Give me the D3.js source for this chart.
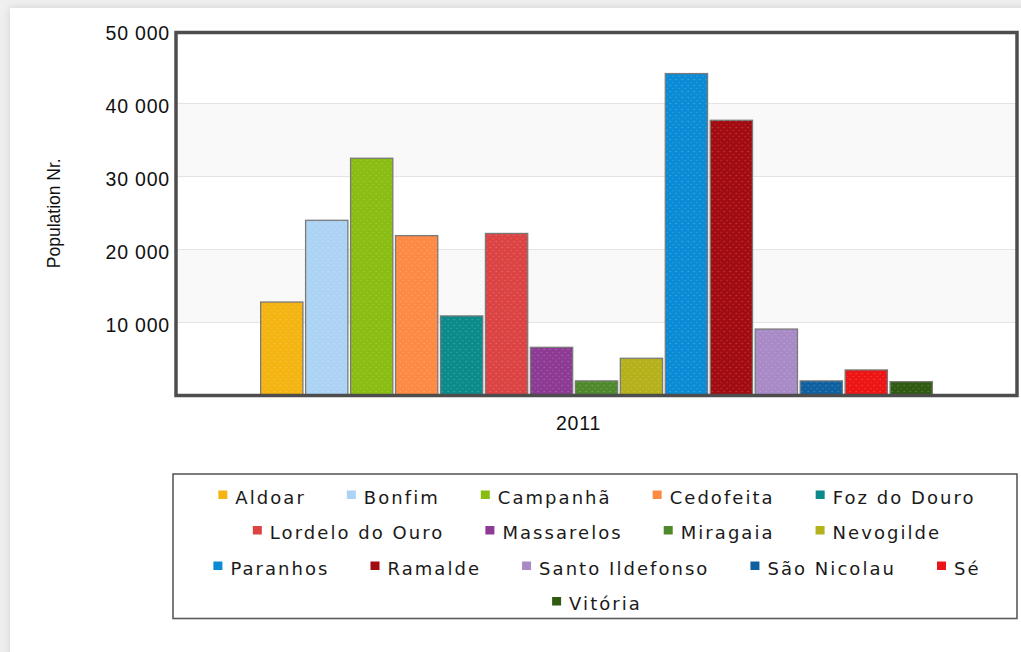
<!DOCTYPE html>
<html>
<head>
<meta charset="utf-8">
<script src="https://cdn.jsdelivr.net/npm/d3@7"></script>
<style>
  html, body { margin: 0; padding: 0; background: #efefef; }
  #wrap { position: relative; width: 1021px; height: 652px; overflow: hidden; }
  #card { position: absolute; left: 10px; top: 8px; width: 1040px; height: 660px;
          background: #fff; box-shadow: 0 0 8px rgba(0,0,0,0.12); }
  svg { position: absolute; left: 0; top: 0; }
</style>
</head>
<body>
<div id="wrap">
  <div id="card"></div>
  <svg id="chart" width="1021" height="652"></svg>
</div>
<script>
// Resident population of Porto's parishes, 2011 census
const years = ["2011"];
const parishes = ["Aldoar", "Bonfim", "Campanhã", "Cedofeita", "Foz do Douro",
  "Lordelo do Ouro", "Massarelos", "Miragaia", "Nevogilde", "Paranhos",
  "Ramalde", "Santo Ildefonso", "São Nicolau", "Sé", "Vitória"];
const population = [12800, 24000, 32500, 21900, 10900,
  22200, 6600, 2000, 5100, 44100,
  37700, 9100, 2000, 3500, 1900];
const colors = ["#f4b412", "#acd3f4", "#8abd12", "#fd8a44", "#0b8a8c",
  "#dc4343", "#8d3a94", "#4e8a2c", "#b4b11a", "#0b8bd5",
  "#a20b10", "#a88ac6", "#0f60a0", "#ec1414", "#2f5a10"];
const yTicks = [10000, 20000, 30000, 40000, 50000];
const yTitle = "Population Nr.";

const svg = d3.select("#chart");
const plot = { left: 176, top: 31, right: 1017, bottom: 395.5 };

const locale = d3.formatLocale({ decimal: ",", thousands: " ", grouping: [3], currency: ["", ""] });
const fmt = locale.format(",d");

const x0 = d3.scaleBand().domain(years).range([plot.left, plot.right]).paddingOuter(0.126).paddingInner(0);
const x1 = d3.scaleBand().domain(parishes).range([0, x0.bandwidth()]).paddingInner(0.06).paddingOuter(0.0);
const y = d3.scaleLinear().domain([0, 50000]).range([plot.bottom, 30.5]);

// dotted texture used on the bars and the shaded bands
const defs = svg.append("defs");
const dots = defs.append("pattern").attr("id", "dots").attr("patternUnits", "userSpaceOnUse")
  .attr("width", 6).attr("height", 6);
dots.append("circle").attr("cx", 1.5).attr("cy", 1.5).attr("r", 0.7).attr("fill", "#fff").attr("opacity", 0.28);
dots.append("circle").attr("cx", 4.5).attr("cy", 4.5).attr("r", 0.7).attr("fill", "#fff").attr("opacity", 0.18);
const grain = defs.append("pattern").attr("id", "grain").attr("patternUnits", "userSpaceOnUse")
  .attr("width", 4).attr("height", 4);
grain.append("rect").attr("width", 4).attr("height", 4).attr("fill", "#fafafa");
grain.append("circle").attr("cx", 1).attr("cy", 1).attr("r", 0.6).attr("fill", "#ebebeb");
grain.append("circle").attr("cx", 3).attr("cy", 3).attr("r", 0.6).attr("fill", "#f0f0f0");

// alternating shaded bands between ticks
const bands = [[10000, 20000], [30000, 40000]];
svg.append("g").selectAll("rect").data(bands).join("rect")
  .attr("x", plot.left).attr("width", plot.right - plot.left)
  .attr("y", d => y(d[1])).attr("height", d => y(d[0]) - y(d[1]))
  .attr("fill", "url(#grain)");

// faint gridlines
svg.append("g").selectAll("line").data(yTicks.slice(0, -1)).join("line")
  .attr("x1", plot.left).attr("x2", plot.right)
  .attr("y1", d => y(d)).attr("y2", d => y(d))
  .attr("stroke", "#e4e4e4").attr("stroke-width", 1);

// bars
const g = svg.append("g").selectAll("g").data(years).join("g")
  .attr("transform", d => `translate(${x0(d)},0)`);
const barData = parishes.map((p, i) => ({ name: p, value: population[i], color: colors[i] }));
g.selectAll("rect.bar").data(barData).join("rect")
  .attr("class", "bar")
  .attr("x", d => x1(d.name)).attr("width", x1.bandwidth())
  .attr("y", d => y(d.value)).attr("height", d => y(0) - y(d.value))
  .attr("fill", d => d.color)
  .attr("stroke", "#7a7a7a").attr("stroke-width", 1.3);
g.selectAll("rect.tex").data(barData).join("rect")
  .attr("class", "tex")
  .attr("x", d => x1(d.name) + 1).attr("width", x1.bandwidth() - 2)
  .attr("y", d => y(d.value) + 1).attr("height", d => y(0) - y(d.value) - 1)
  .attr("fill", "url(#dots)");

// plot frame
svg.append("rect")
  .attr("x", plot.left).attr("y", 32.5)
  .attr("width", plot.right - plot.left).attr("height", plot.bottom - 32.5)
  .attr("fill", "none").attr("stroke", "#4d4d4d").attr("stroke-width", 3.5);

// y axis
const yAxis = d3.axisLeft(y).tickValues(yTicks).tickFormat(fmt).tickSize(0).tickPadding(0);
svg.append("g").attr("transform", `translate(${plot.left - 6},0)`).call(yAxis)
  .call(s => s.select(".domain").remove())
  .call(s => s.selectAll("text")
    .attr("dy", "0.45em")
    .style("font-family", "'Liberation Sans', Arial, sans-serif")
    .style("font-size", "19.5px").style("letter-spacing", "0.8px").attr("fill", "#111"));

// x axis
const xAxis = d3.axisBottom(x0).tickSize(0).tickPadding(0);
svg.append("g").attr("transform", `translate(0,${plot.bottom})`).call(xAxis)
  .call(s => s.select(".domain").remove())
  .call(s => s.selectAll("text")
    .attr("y", 34.5).attr("dy", 0).attr("dx", -18)
    .style("font-family", "'Liberation Sans', Arial, sans-serif")
    .style("font-size", "19.5px").style("letter-spacing", "0.8px").attr("fill", "#111"));

// y title
svg.append("text")
  .attr("transform", `translate(60,${(plot.top + plot.bottom) / 2}) rotate(-90)`)
  .attr("text-anchor", "middle")
  .style("font-family", "'Liberation Sans', Arial, sans-serif")
  .style("font-size", "17.5px").attr("fill", "#111")
  .text(yTitle);

// legend
const legendBox = { x: 173, y: 474, w: 844, h: 144.5 };
svg.append("rect")
  .attr("x", legendBox.x).attr("y", legendBox.y)
  .attr("width", legendBox.w).attr("height", legendBox.h)
  .attr("fill", "#fff").attr("stroke", "#5a5a5a").attr("stroke-width", 1.6);

const lg = svg.append("g");
const items = lg.selectAll("g").data(barData).join("g");
items.append("rect").attr("width", 9).attr("height", 8.5).attr("y", -13).attr("fill", d => d.color);
items.append("text").attr("x", 17)
  .style("font-family", "'DejaVu Sans', Verdana, sans-serif")
  .style("font-size", "18px").style("letter-spacing", "2.05px").attr("fill", "#1a1a1a")
  .text(d => d.name);

const markerW = 17, itemGap = 41, maxRow = 820;
const widths = [];
items.select("text").each(function () { widths.push(markerW + this.getComputedTextLength()); });
const rows = [];
let cur = [], curW = 0;
widths.forEach((w, i) => {
  const add = cur.length ? itemGap + w : w;
  if (cur.length && curW + add > maxRow) { rows.push({ idx: cur, w: curW }); cur = [i]; curW = w; }
  else { cur.push(i); curW += add; }
});
if (cur.length) rows.push({ idx: cur, w: curW });
const pos = [];
const cx = legendBox.x + legendBox.w / 2 + 2;
rows.forEach((r, ri) => {
  let xx = cx - r.w / 2;
  r.idx.forEach(i => { pos[i] = [xx, 503.5 + ri * 35.5]; xx += widths[i] + itemGap; });
});
items.attr("transform", (d, i) => `translate(${pos[i][0]},${pos[i][1]})`);
</script>
</body>
</html>
